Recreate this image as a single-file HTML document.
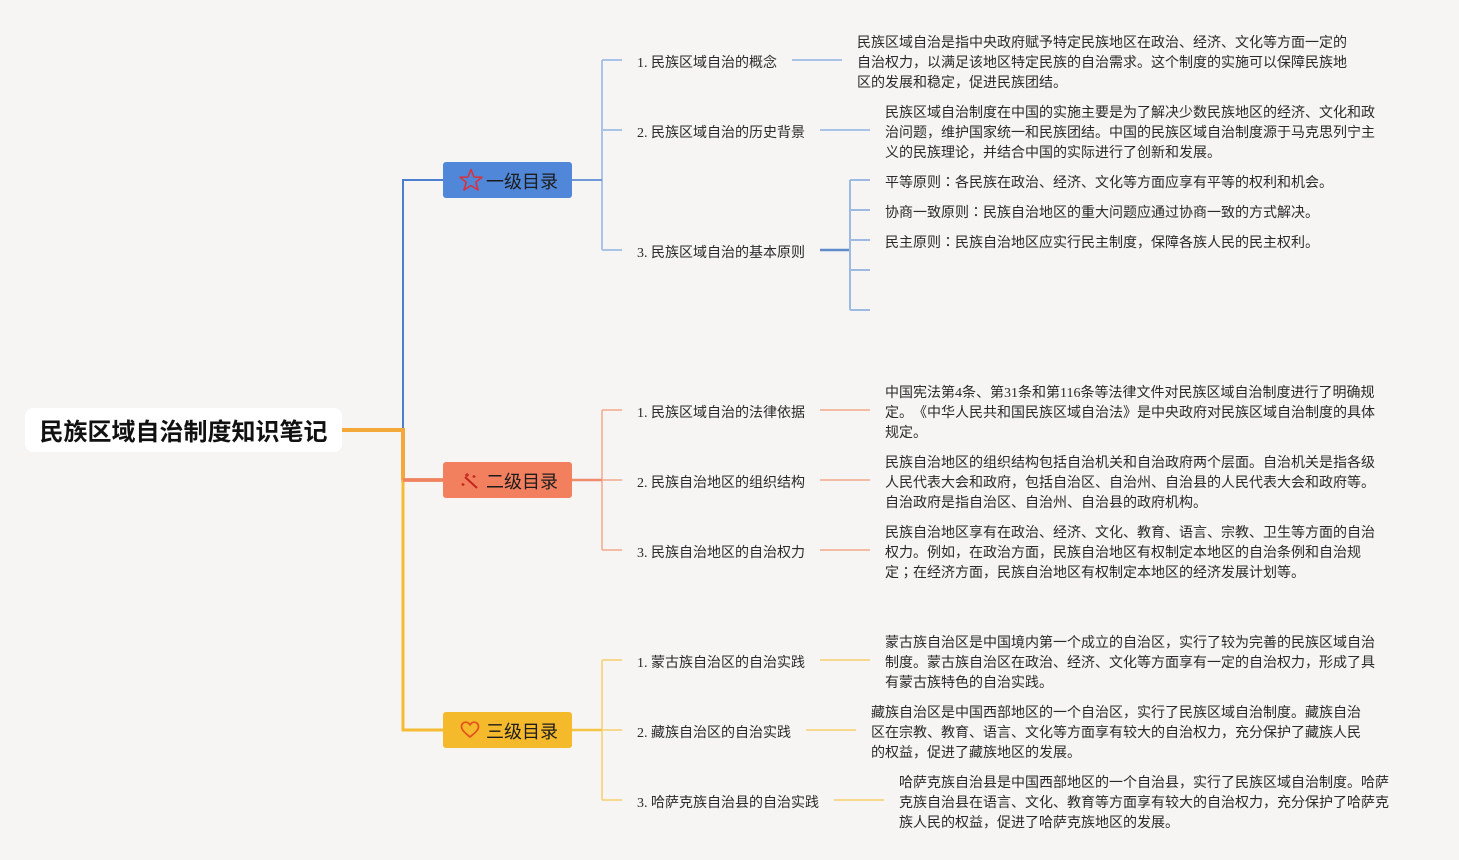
<!DOCTYPE html>
<html>
<head>
<meta charset="utf-8">
<style>
  html,body{margin:0;padding:0;}
  body{width:1459px;height:860px;background:#f6f5f3;position:relative;overflow:hidden;
       font-family:"Liberation Serif","Noto Sans CJK SC",sans-serif;color:#2a2a2a;text-spacing-trim:space-all;}
  .t{position:absolute;font-size:14px;line-height:20px;white-space:nowrap;margin-top:3px;text-spacing-trim:space-all;}
  .c{font-family:"Liberation Serif","Noto Sans CJK TC",sans-serif;}
  .root{position:absolute;left:25px;top:408px;width:317px;height:44px;background:#fff;border-radius:8px;}
  .root span{position:absolute;left:0;width:317px;top:3px;line-height:44px;text-align:center;
       font-family:"Liberation Sans","Noto Sans CJK SC",sans-serif;font-weight:bold;font-size:24px;color:#111;}
  .node{position:absolute;left:443px;width:129px;height:36px;border-radius:3px;}
  .node span{position:absolute;left:43px;top:2px;line-height:36px;font-size:18px;color:#1c1c1c;
       font-family:"Liberation Sans","Noto Sans CJK SC",sans-serif;white-space:nowrap;}
  .node svg{position:absolute;}
  svg.lines{position:absolute;left:0;top:0;}
</style>
</head>
<body>
<svg class="lines" width="1459" height="860" viewBox="0 0 1459 860" fill="none">
  <!-- root branches -->
  <path d="M342,430 H403 V180 H443" stroke="#4d7fcf" stroke-width="2"/>
  <path d="M342,430 H403 V480 H443" stroke="#f0825f" stroke-width="3.5"/>
  <path d="M403,480 V730 H443" stroke="#f5bb32" stroke-width="3"/>
  <path d="M342,430 H403 V480" stroke="#f4a83a" stroke-width="4"/>
  <path d="M403,480 H443" stroke="#f0825f" stroke-width="3.5"/>

  <!-- blue group -->
  <path d="M602,60 V250" stroke="#a9c4e6" stroke-width="2"/>
  <path d="M602,60 H622 M602,130 H622 M602,250 H622" stroke="#a9c4e6" stroke-width="2"/>
  <path d="M572,180 H602" stroke="#6f98d8" stroke-width="2"/>
  <path d="M792,60 H842 M820,130 H870" stroke="#a9c4e6" stroke-width="2"/>
  <path d="M820,250 H850" stroke="#5f8acb" stroke-width="2.5"/>
  <path d="M850,180 V310 M850,180 H870 M850,210 H870 M850,240 H870 M850,270 H870 M850,310 H870" stroke="#9dbbe2" stroke-width="2"/>

  <!-- orange group -->
  <path d="M602,410 V550 M602,410 H622 M602,480 H622 M602,550 H622" stroke="#f4bba5" stroke-width="2"/>
  <path d="M572,480 H602" stroke="#f08c6c" stroke-width="2.5"/>
  <path d="M820,410 H870 M820,480 H870 M820,550 H870" stroke="#f4bba5" stroke-width="2"/>

  <!-- yellow group -->
  <path d="M602,660 V800 M602,660 H622 M602,730 H622 M602,800 H622" stroke="#f7d98e" stroke-width="2"/>
  <path d="M572,730 H602" stroke="#f5c443" stroke-width="2.5"/>
  <path d="M820,660 H870 M806,730 H856 M834,800 H884" stroke="#f7d98e" stroke-width="2"/>
</svg>

<div class="root"><span>民族区域自治制度知识笔记</span></div>

<div class="node" style="top:162px;background:#5087d8;">
  <svg style="left:15px;top:6px" width="26" height="24" viewBox="0 0 26 24">
    <polygon points="13,1.5 16,9 24,9.3 17.8,14.2 20,22 13,17.5 6,22 8.2,14.2 2,9.3 10,9" stroke="#d8333d" stroke-width="1.6" fill="none" stroke-linejoin="round"/>
  </svg>
  <span>一级目录</span>
</div>

<div class="node" style="top:462px;background:#f2805f;">
  <svg style="left:18px;top:9px" width="20" height="20" viewBox="0 0 20 20">
    <path d="M4,6 L16,17" stroke="#c4241c" stroke-width="2"/>
    <path d="M6,2 v4 M4,4 h4" stroke="#c4241c" stroke-width="1.2"/>
    <path d="M2,12 v3 M0.5,13.5 h3" stroke="#c4241c" stroke-width="1.2"/>
    <path d="M13,4 v3 M11.5,5.5 h3" stroke="#c4241c" stroke-width="1.2"/>
  </svg>
  <span>二级目录</span>
</div>

<div class="node" style="top:712px;background:#f5b92c;">
  <svg style="left:17px;top:9px" width="20" height="18" viewBox="0 0 20 18">
    <path d="M10,16 C6,12.5 1.5,9.5 1.5,5.5 C1.5,2.8 3.5,1.2 5.7,1.2 C7.7,1.2 9.2,2.4 10,4 C10.8,2.4 12.3,1.2 14.3,1.2 C16.5,1.2 18.5,2.8 18.5,5.5 C18.5,9.5 14,12.5 10,16 Z" stroke="#e2501c" stroke-width="1.7" fill="none" stroke-linejoin="round"/>
  </svg>
  <span>三级目录</span>
</div>

<!-- blue group labels -->
<div class="t" style="left:637px;top:51px">1. 民族区域自治的概念</div>
<div class="t" style="left:637px;top:121px">2. 民族区域自治的历史背景</div>
<div class="t" style="left:637px;top:241px">3. 民族区域自治的基本原则</div>

<div class="t" style="left:857px;top:31px">民族区域自治是指中央政府赋予特定民族地区在政治、经济、文化等方面一定的</div>
<div class="t" style="left:857px;top:51px">自治权力，以满足该地区特定民族的自治需求。这个制度的实施可以保障民族地</div>
<div class="t" style="left:857px;top:71px">区的发展和稳定，促进民族团结。</div>

<div class="t" style="left:885px;top:101px">民族区域自治制度在中国的实施主要是为了解决少数民族地区的经济、文化和政</div>
<div class="t" style="left:885px;top:121px">治问题，维护国家统一和民族团结。中国的民族区域自治制度源于马克思列宁主</div>
<div class="t" style="left:885px;top:141px">义的民族理论，并结合中国的实际进行了创新和发展。</div>

<div class="t" style="left:885px;top:171px">平等原则<span class="c">：</span>各民族在政治、经济、文化等方面应享有平等的权利和机会。</div>
<div class="t" style="left:885px;top:201px">协商一致原则<span class="c">：</span>民族自治地区的重大问题应通过协商一致的方式解决。</div>
<div class="t" style="left:885px;top:231px">民主原则<span class="c">：</span>民族自治地区应实行民主制度，保障各族人民的民主权利。</div>

<!-- orange group labels -->
<div class="t" style="left:637px;top:401px">1. 民族区域自治的法律依据</div>
<div class="t" style="left:637px;top:471px">2. 民族自治地区的组织结构</div>
<div class="t" style="left:637px;top:541px">3. 民族自治地区的自治权力</div>

<div class="t" style="left:885px;top:381px">中国宪法第4条、第31条和第116条等法律文件对民族区域自治制度进行了明确规</div>
<div class="t" style="left:885px;top:401px">定。《中华人民共和国民族区域自治法》是中央政府对民族区域自治制度的具体</div>
<div class="t" style="left:885px;top:421px">规定。</div>

<div class="t" style="left:885px;top:451px">民族自治地区的组织结构包括自治机关和自治政府两个层面。自治机关是指各级</div>
<div class="t" style="left:885px;top:471px">人民代表大会和政府，包括自治区、自治州、自治县的人民代表大会和政府等。</div>
<div class="t" style="left:885px;top:491px">自治政府是指自治区、自治州、自治县的政府机构。</div>

<div class="t" style="left:885px;top:521px">民族自治地区享有在政治、经济、文化、教育、语言、宗教、卫生等方面的自治</div>
<div class="t" style="left:885px;top:541px">权力。例如，在政治方面，民族自治地区有权制定本地区的自治条例和自治规</div>
<div class="t" style="left:885px;top:561px">定<span class="c">；</span>在经济方面，民族自治地区有权制定本地区的经济发展计划等。</div>

<!-- yellow group labels -->
<div class="t" style="left:637px;top:651px">1. 蒙古族自治区的自治实践</div>
<div class="t" style="left:637px;top:721px">2. 藏族自治区的自治实践</div>
<div class="t" style="left:637px;top:791px">3. 哈萨克族自治县的自治实践</div>

<div class="t" style="left:885px;top:631px">蒙古族自治区是中国境内第一个成立的自治区，实行了较为完善的民族区域自治</div>
<div class="t" style="left:885px;top:651px">制度。蒙古族自治区在政治、经济、文化等方面享有一定的自治权力，形成了具</div>
<div class="t" style="left:885px;top:671px">有蒙古族特色的自治实践。</div>

<div class="t" style="left:871px;top:701px">藏族自治区是中国西部地区的一个自治区，实行了民族区域自治制度。藏族自治</div>
<div class="t" style="left:871px;top:721px">区在宗教、教育、语言、文化等方面享有较大的自治权力，充分保护了藏族人民</div>
<div class="t" style="left:871px;top:741px">的权益，促进了藏族地区的发展。</div>

<div class="t" style="left:899px;top:771px">哈萨克族自治县是中国西部地区的一个自治县，实行了民族区域自治制度。哈萨</div>
<div class="t" style="left:899px;top:791px">克族自治县在语言、文化、教育等方面享有较大的自治权力，充分保护了哈萨克</div>
<div class="t" style="left:899px;top:811px">族人民的权益，促进了哈萨克族地区的发展。</div>

</body>
</html>
